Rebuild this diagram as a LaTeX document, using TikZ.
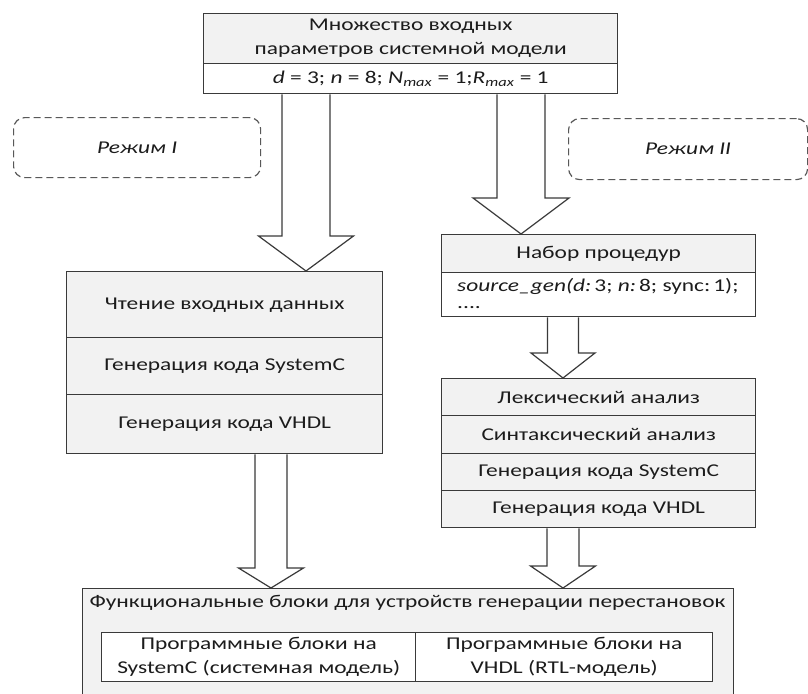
\documentclass[tikz,border=0pt]{standalone}
\usepackage{fontspec}
\setmainfont{Carlito}[FakeStretch=1.3]
\usetikzlibrary{calc,backgrounds}
\definecolor{gbg}{HTML}{F2F2F2}
\definecolor{lc}{HTML}{3A3A3A}
\definecolor{tc}{HTML}{1C1C1C}
\tikzset{
  every node/.style={text=tc, font=\fontsize{18}{24}\selectfont},
  box/.style={draw=lc, line width=1.4pt, fill=gbg, anchor=north west, inner sep=0pt, align=center},
  wbox/.style={box, fill=white},
  modebox/.style={draw=lc!85, line width=1.2pt, dash pattern=on 7pt off 4pt, rounded corners=11pt, fill=white, anchor=north west, inner sep=0pt, font=\fontsize{18}{24}\selectfont\itshape},
  blockarr/.style={draw=lc, line width=1.2pt, fill=white, line join=miter}
}
\newcommand\blockarrow[6]{%
  \draw[blockarr] ($(#1.south -| #3)+(-#4,0)$) -- ($(#3)+(-#4,#6)$) -- ($(#3)+(-#5,#6)$) -- (#2.north -| #3) -- ($(#3)+(#5,#6)$) -- ($(#3)+(#4,#6)$) -- ($(#1.south -| #3)+(#4,0)$);}
\begin{document}
\begin{tikzpicture}[x=1pt,y=-1pt]
\useasboundingbox (0,0) rectangle (808,693);
\clip (0,0) rectangle (808,693);
% top box
\node[box, minimum width=414pt, minimum height=50pt] (top1) at (203,13) {Множество входных\\параметров системной модели};
\node[wbox, minimum width=414pt, minimum height=30pt] (top2) at (203,63) {\textit{d} = 3; \textit{n} = 8; \textit{N}\textsubscript{\textit{max}} = 1;\textit{R}\textsubscript{\textit{max}} = 1};
% mode boxes
\node[modebox, minimum width=247pt, minimum height=60pt] (mode1) at (13,117) {Режим I};
\node[modebox, minimum width=239pt, minimum height=61pt] (mode2) at (568,118) {Режим II};
% left stack
\node[box, minimum width=316pt, minimum height=66pt] (left1) at (66,271) {Чтение входных данных};
\node[box, minimum width=316pt, minimum height=57pt] (left2) at (66,337) {Генерация кода SystemC};
\node[box, minimum width=316pt, minimum height=59pt] (left3) at (66,394) {Генерация кода VHDL};
% procedures
\node[box, minimum width=314pt, minimum height=38pt] (proc1) at (441,234) {Набор процедур};
\node[wbox, minimum width=314pt, minimum height=44pt] (proc2) at (441,272) {};
\node[anchor=west, inner sep=0pt] (proctext1) at (457,286) {\textit{source\_gen(d:}\,3; \textit{n:}\,8; sync:\,1);};
\node[anchor=west, inner sep=0pt] (proctext2) at (457,308) {....};
% right stack
\node[box, minimum width=314pt, minimum height=37pt] (s1) at (441,378) {Лексический анализ};
\node[box, minimum width=314pt, minimum height=38pt] (s2) at (441,415) {Синтаксический анализ};
\node[box, minimum width=314pt, minimum height=37pt] (s3) at (441,453) {Генерация кода SystemC};
\node[box, minimum width=314pt, minimum height=37pt] (s4) at (441,490) {Генерация кода VHDL};
% bottom
\node[box, minimum width=651pt, minimum height=120pt] (outer) at (82,588) {};
\node[anchor=center] (title) at (407.5,603) {Функциональные блоки для устройств генерации перестановок};
\node[wbox, minimum width=314pt, minimum height=49pt] (in1) at (101,632) {Программные блоки на\\SystemC (системная модель)};
\node[wbox, minimum width=297pt, minimum height=49pt] (in2) at (415,632) {Программные блоки на\\VHDL (RTL-модель)};
% arrows
\coordinate (c1) at (306,0);
\coordinate (c2) at (521,0);
\coordinate (c3) at (563,0);
\coordinate (c4) at (271,0);
\coordinate (c5) at (563,0);
\begin{scope}[on background layer]
\blockarrow{top2}{left1}{c1}{24}{47.5}{236}
\blockarrow{top2}{proc1}{c2}{24}{48}{198}
\blockarrow{proc2}{s1}{c3}{15.5}{32}{353}
\blockarrow{left3}{outer}{c4}{16}{32.5}{568}
\blockarrow{s4}{outer}{c5}{16}{32.5}{566}
\end{scope}
\end{tikzpicture}
\end{document}
